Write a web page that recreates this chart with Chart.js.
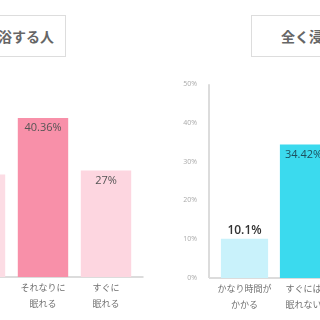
<!DOCTYPE html>
<html>
<head>
<meta charset="utf-8">
<script src="https://cdn.jsdelivr.net/npm/chart.js"></script>
<style>
body { margin:0; width:320px; height:320px; overflow:hidden; position:relative; background:#fff; }
.title { position:absolute; top:15px; height:42px; box-sizing:border-box; border:1px solid #ddd; background:#fff;
  font:bold 14px 'Noto Sans CJK JP', sans-serif; color:#666; line-height:40px; white-space:nowrap; }
#tleft { left:-80px; width:146px; text-align:right; padding-right:11px; }
#tright { left:251px; width:120px; padding-left:29px; }
canvas { position:absolute; }
#left { left:-60px; top:69px; }
#right { left:170px; top:70px; }
</style>
</head>
<body>
<div class="title" id="tleft">浴する人</div>
<div class="title" id="tright">全く浸</div>
<canvas id="left" width="210" height="250"></canvas>
<canvas id="right" width="170" height="250"></canvas>
<script>
// left panel (partly cut off)
const labels_left = ['', ['それなりに', '眠れる'], ['すぐに', '眠れる']];
const values_left = [26, 40.36, 27];
const colors_left = ['#fcdce4', '#f890a9', '#fdd6e0'];
// right panel (partly cut off)
const labels_right = [['かなり時間が', 'かかる'], ['すぐには', '眠れない']];
const values_right = [10.1, 34.42];
const colors_right = ['#c9f2fb', '#3bdaee'];
const y_ticks = [0, 10, 20, 30, 40, 50];

const numFont = "'Open Sans', 'Noto Sans CJK JP', sans-serif";

// axis lines sit 6px outside of the bars area
function axisLines(showY) {
    return {
        id: 'axisLines',
        beforeDatasetsDraw(chart) {
            const c = chart.ctx;
            const a = chart.chartArea;
            const y0 = chart.scales.y.getPixelForValue(0);
            c.save();
            c.strokeStyle = '#dcdcdc';
            c.lineWidth = 2;
            c.beginPath();
            c.moveTo(a.left - 6, y0);
            c.lineTo(a.right + 6, y0);
            if (showY) {
                c.moveTo(a.left - 6, y0);
                c.lineTo(a.left - 6, a.top);
            }
            c.stroke();
            c.restore();
        }
    };
}

function valueLabels(colors) {
    return {
        id: 'valueLabels',
        afterDatasetsDraw(chart) {
            const c = chart.ctx;
            const vals = chart.data.datasets[0].data;
            chart.getDatasetMeta(0).data.forEach((bar, i) => {
                c.save();
                c.textAlign = 'center';
                c.textBaseline = 'middle';
                if (vals[i] < 15) {
                    c.font = '600 12px ' + numFont;
                    c.fillStyle = '#333';
                    c.fillText(vals[i] + '%', bar.x, bar.y - 8);
                } else {
                    c.font = '11px ' + numFont;
                    c.fillStyle = colors[i];
                    c.fillText(vals[i] + '%', bar.x, bar.y + 10);
                }
                c.restore();
            });
        }
    };
}

const xAxis = {
    grid: { display: false },
    border: { display: false },
    ticks: {
        padding: -5,
        maxRotation: 0,
        autoSkip: false,
        color: '#707070',
        font: { family: "'Noto Sans CJK JP', sans-serif", size: 9, lineHeight: '16px' }
    },
    afterFit: (scale) => { scale.height = 42; }
};

new Chart(document.getElementById('left').getContext('2d'), {
    type: 'bar',
    data: {
        labels: labels_left,
        datasets: [{
            data: values_left,
            backgroundColor: colors_left,
            barPercentage: 0.8,
            categoryPercentage: 1
        }]
    },
    options: {
        responsive: false,
        animation: false,
        layout: { padding: { left: 8.5, right: 12.5, top: 11, bottom: 0 } },
        plugins: { legend: { display: false }, tooltip: { enabled: false } },
        scales: {
            x: xAxis,
            y: { display: false, min: 0, max: 50 }
        }
    },
    plugins: [axisLines(false), valueLabels(['#555', '#555', '#555'])]
});

new Chart(document.getElementById('right').getContext('2d'), {
    type: 'bar',
    data: {
        labels: labels_right,
        datasets: [{
            data: values_right,
            backgroundColor: colors_right,
            barPercentage: 0.8,
            categoryPercentage: 1
        }]
    },
    options: {
        responsive: false,
        animation: false,
        layout: { padding: { left: 0, right: 7, top: 11, bottom: 0 } },
        plugins: { legend: { display: false }, tooltip: { enabled: false } },
        scales: {
            x: xAxis,
            y: {
                min: 0,
                max: 50,
                grid: { display: false },
                border: { display: false },
                afterBuildTicks: (scale) => { scale.ticks = y_ticks.map(v => ({ value: v })); },
                afterFit: (scale) => { scale.width = 45; },
                ticks: {
                    padding: 10,
                    color: '#aaa',
                    font: { family: numFont, size: 7 },
                    callback: (v) => v + '%'
                }
            }
        }
    },
    plugins: [axisLines(true), valueLabels(['#333', '#1d4f5e'])]
});
</script>
</body>
</html>
